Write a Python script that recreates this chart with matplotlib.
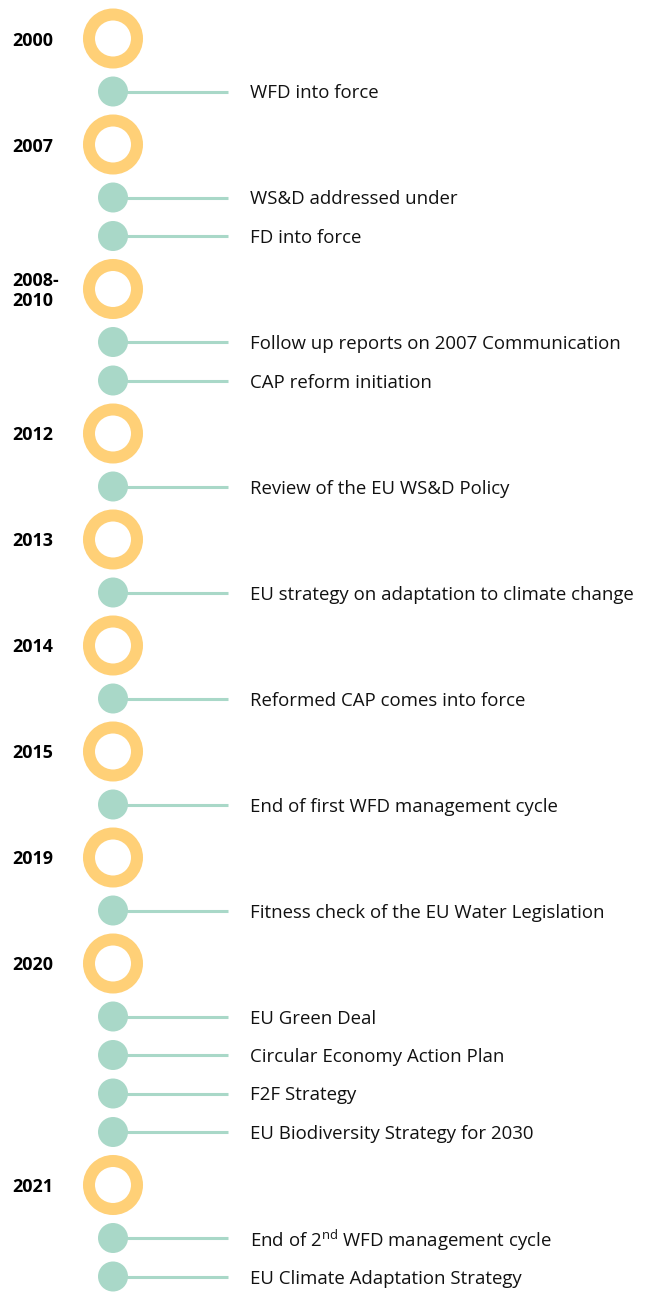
import matplotlib
matplotlib.use("Agg")
import matplotlib.pyplot as plt
from matplotlib.patches import Circle

plt.rcParams['font.family'] = ['Open Sans', 'DejaVu Sans']
plt.rcParams['mathtext.fontset'] = 'custom'
plt.rcParams['mathtext.rm'] = 'Open Sans'

# Data
years = ["2000", "2007", "2008-\n2010", "2012", "2013", "2014", "2015", "2019", "2020", "2021"]
events = [
    ["WFD into force"],
    ["WS&D addressed under", "FD into force"],
    ["Follow up reports on 2007 Communication", "CAP reform initiation"],
    ["Review of the EU WS&D Policy"],
    ["EU strategy on adaptation to climate change"],
    ["Reformed CAP comes into force"],
    ["End of first WFD management cycle"],
    ["Fitness check of the EU Water Legislation"],
    ["EU Green Deal", "Circular Economy Action Plan", "F2F Strategy",
     "EU Biodiversity Strategy for 2030"],
    ["End of 2$^{\\mathrm{nd}}$ WFD management cycle", "EU Climate Adaptation Strategy"],
]

yellow = "#FFD077"
green = "#A9D8C8"

W, H = 650, 1292
fig = plt.figure(figsize=(W / 100, H / 100), dpi=100)
ax = fig.add_axes([0, 0, 1, 1])
ax.set_xlim(0, W)
ax.set_ylim(H, 0)
ax.axis("off")

cx = 113
y = 38.5
for yr, evs in zip(years, events):
    # ring: radius 24 px, width 12 px (lw in points)
    ax.add_patch(Circle((cx, y), 24, facecolor="none", edgecolor=yellow, lw=12 * 0.72))
    ax.text(12, y + 2, yr, fontsize=12.9, fontweight="bold", ha="left", va="center",
            linespacing=1.15)
    y += 53
    for i, ev in enumerate(evs):
        ax.add_patch(Circle((cx, y), 15, facecolor=green, edgecolor="none"))
        ax.plot([cx, 228], [y, y], color=green, lw=2.2, solid_capstyle="butt")
        ax.text(250, y + 2, ev, fontsize=13.4, ha="left", va="center", color="#111111")
        if i < len(evs) - 1:
            y += 38.5
    y += 53

fig.savefig("out.png", dpi=100)
